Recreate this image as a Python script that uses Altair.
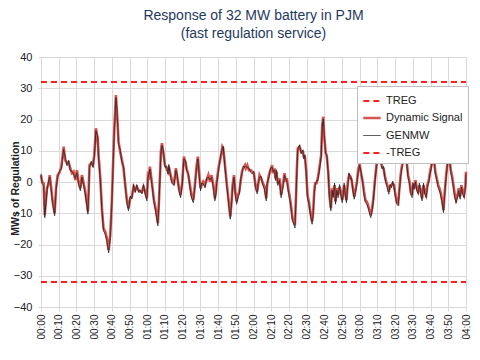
import altair as alt
import pandas as pd

# ---- data ----
minutes = [
    0, 0.6, 1.5, 2.1, 3.4, 4.3, 4.9, 5.6, 6.6, 7.7,
    8.5, 9.4, 10.5, 11.5, 12.8, 13.7, 14.7, 15.6, 16.5, 17.5,
    18.4, 19.4, 20.3, 21.2, 22.2, 23.1, 24.1, 25, 25.9, 26.5,
    27.4, 28.4, 29.3, 30.1, 31, 32, 32.5, 33.5, 34.4, 35.3,
    36.3, 37.2, 38.2, 39.1, 40, 41, 41.5, 42.3, 42.9, 43.8,
    44.7, 45.7, 46.6, 47.6, 48.5, 49.4, 50.4, 51.3, 52.3, 53.2,
    54.1, 55.1, 56, 57, 57.9, 58.8, 59.8, 60.4, 60.9, 61.5,
    62.3, 62.8, 63.8, 64.7, 65.6, 66, 66.6, 67.2, 67.7, 68.3,
    69, 70, 70.9, 71.7, 72.2, 73.2, 74.1, 75.1, 76.2, 76.9,
    77.9, 78.8, 79.8, 80.7, 81.7, 82.2, 83.2, 84.1, 85, 86,
    86.9, 87.9, 88.6, 89.4, 90.1, 90.7, 91.6, 92.6, 93.5, 94.5,
    95.4, 96.3, 97.3, 98.2, 98.8, 99.2, 100.5, 101.4, 102.4, 102.9,
    103.7, 104.6, 105.6, 106.3, 106.9, 107.6, 108.2, 109, 109.7, 110.5,
    111.2, 112, 112.7, 113.5, 114.2, 115.2, 115.7, 116.5, 117.4, 118.4,
    119.3, 120.2, 121.1, 122.1, 122.6, 123.4, 124.3, 125.3, 126.2, 127.2,
    127.7, 128.7, 129.6, 130.5, 131.1, 131.9, 132.4, 133, 133.7, 134.7,
    135.6, 136.6, 137.5, 138.3, 138.8, 139.6, 140.3, 140.9, 141.5, 142,
    142.8, 143.4, 143.9, 144.5, 145, 146, 146.9, 147.9, 148.4, 149,
    149.8, 150.5, 151.3, 151.8, 152.4, 153.1, 153.7, 154.3, 154.8, 155.6,
    156.3, 156.9, 157.7, 158.2, 158.8, 159.4, 159.9, 160.7, 161.4, 162.2,
    162.9, 163.7, 164.4, 165, 165.8, 166.3, 167.1, 167.8, 168.6, 169.3,
    170.1, 170.7, 171.2, 172, 172.5, 173.3, 174, 174.8, 175.4, 176.1,
    176.9, 177.6, 178.4, 179.1, 179.9, 180.9, 181.7, 182.4, 183.2, 184,
    184.7, 185.5, 186.2, 187, 187.7, 188.5, 189.4, 190.4, 191.1, 191.9,
    192.6, 193.4, 194.1, 194.9, 195.6, 196.4, 197.1, 197.9, 198.6, 199.4,
    200.2, 200.9, 201.7, 202.4, 203.2, 203.9, 204.9, 205.6, 206.2, 206.7,
    207.3, 208.1, 208.8, 209.6, 210.1, 210.7, 211.5, 212.2, 213, 213.7,
    214.5, 215.2, 216, 216.7, 217.5, 218.2, 219, 219.7, 220.5, 221.2,
    222, 222.7, 223.5, 224.3, 225, 225.8, 226.5, 227.3, 228, 228.8,
    229.5, 230.1, 230.7, 231.4, 232.2, 232.9, 233.7, 234.4, 235.2, 235.9,
    236.7, 237.4, 238.1, 238.9, 239.7, 240,
]

dynamic_signal = [
    2.2, 0.1, -0.4, -10.6, -2.0, -0.4, 2.2, -1.0, -6.3, -10.0,
    -2.0, 2.2, 3.1, 4.9, 11.3, 7.0, 6.0, 6.3, 4.4, 2.8,
    3.3, 0.6, 3.8, 0.1, -2.0, 2.2, -0.4, -3.1, -6.8, -9.5,
    5.4, 6.0, 5.4, 8.6, 17.2, 14.0, 8.6, 1.2, -8.4, -14.8,
    -15.9, -18.0, -21.8, -17.0, -6.3, 10.8, 18.2, 27.8, 22.5, 12.9,
    9.7, 7.0, 4.4, -1.0, -5.8, -8.4, -5.2, -4.7, -1.5, -2.6,
    -1.5, -2.6, -3.1, -3.1, -1.5, -3.1, -5.2, 2.2, 1.7, 4.9,
    1.2, -1.0, -5.8, -8.4, -11.6, -13.2, -6.3, 2.2, 9.7, 12.4,
    9.7, 5.4, 4.4, 3.3, 4.9, 2.2, 0.1, -0.4, 4.4, 1.7,
    -2.0, -4.2, 0.1, 8.1, 6.0, 4.4, 2.2, -1.0, -4.2, -5.8,
    -1.0, 5.4, 8.1, 2.2, -2.0, -1.0, 0.1, -1.0, 0.6, 2.2,
    0.1, 2.2, -1.0, -5.2, -3.1, 0.1, 5.4, 7.6, 11.3, 10.8,
    6.5, 1.2, -4.2, -7.9, -11.1, -6.3, -1.0, 2.2, -3.1, -6.3,
    -4.2, -3.1, 0.1, 3.3, 4.4, 5.4, 4.4, 5.4, 3.8, 3.8,
    3.3, 2.8, -1.0, -3.1, -1.0, 2.2, 1.2, -0.4, -1.5, -5.2,
    -1.0, 2.2, 3.8, 5.4, 2.8, 4.4, 1.2, 3.3, -0.4, 1.2,
    -4.2, -1.0, 2.8, 0.1, 1.2, -2.0, -4.2, -6.3, -9.0, -11.6,
    -12.7, -13.8, -6.3, 4.4, 10.8, 11.3, 9.7, 9.7, 8.1, 8.1,
    3.3, -4.2, -6.3, -8.4, -10.6, -12.7, -9.5, -3.1, -0.4, -0.4,
    1.2, 3.3, 6.5, 8.6, 18.2, 20.9, 15.0, 9.7, 8.1, 3.3,
    -4.2, -8.4, -2.0, -4.2, -1.0, -6.3, -2.0, -4.2, -1.5, -3.1,
    -5.8, -3.1, -1.0, -4.2, -5.8, 0.1, 2.2, 1.7, 0.6, -2.0,
    -4.7, -2.6, 0.1, 3.8, 6.0, 2.2, 0.1, -3.1, -5.8, -6.3,
    -7.4, -9.0, -10.6, -8.4, -5.2, 0.1, 5.4, 8.1, 9.2, 7.0,
    4.9, 4.4, 2.2, 0.1, -1.0, -3.1, -1.5, -1.0, -0.4, -1.0,
    -4.2, -6.3, -6.8, -2.0, 2.8, 5.4, 8.1, 10.2, 9.2, 5.4,
    2.2, 0.1, -3.1, -4.2, -1.0, -1.5, 0.6, -2.0, -3.1, -1.0,
    -3.1, -5.2, -1.0, -3.1, -4.2, -1.0, 0.6, 3.3, 5.4, 8.1,
    6.5, 3.3, 1.2, -1.0, -2.0, -3.6, -5.8, -9.0, -3.1, 2.2,
    6.0, 9.7, 7.6, 3.8, 1.7, -1.0, -4.2, -5.8, -4.2, -2.0,
    -4.7, -1.0, -3.1, -4.2, -1.0, 3.3,
]

genmw = [
    2.6, -0.5, -1.2, -11.4, -2.8, 0.3, 1.6, -1.8, -7.0, -10.8,
    -2.6, 1.6, 3.6, 4.2, 10.4, 7.8, 5.2, 6.9, 3.6, 3.4,
    2.5, 1.2, 3.0, -0.7, -2.8, 1.5, -1.1, -3.9, -7.5, -10.3,
    4.6, 6.6, 4.7, 7.8, 16.4, 14.6, 7.9, 0.4, -9.1, -15.6,
    -16.7, -18.9, -22.7, -17.8, -7.1, 9.9, 17.4, 27.0, 23.2, 12.1,
    10.4, 6.2, 5.0, -1.7, -6.5, -9.2, -4.5, -5.4, -0.8, -3.3,
    -0.9, -3.3, -2.5, -3.8, -0.9, -3.8, -6.0, 1.5, 2.4, 4.1,
    0.5, -1.7, -6.5, -9.1, -12.4, -14.0, -7.0, 1.4, 9.0, 11.7,
    10.3, 4.7, 5.0, 2.6, 5.6, 1.5, -0.6, -1.1, 3.7, 2.3,
    -2.7, -5.0, -0.6, 7.4, 6.7, 3.7, 2.8, -1.7, -5.0, -6.6,
    -1.7, 4.7, 7.4, 1.5, -2.8, -0.4, -0.6, -1.8, 1.2, 1.5,
    0.7, 1.5, -1.7, -6.0, -3.8, -0.6, 4.7, 8.3, 10.6, 11.4,
    5.8, 0.5, -4.9, -8.7, -11.9, -7.0, -1.7, 1.5, -3.8, -7.1,
    -4.9, -3.8, 0.8, 2.6, 5.0, 4.7, 5.0, 4.7, 4.4, 3.1,
    2.6, 3.4, -1.8, -3.8, -0.4, 1.5, 1.8, -1.1, -2.2, -6.0,
    -0.4, 1.5, 4.4, 4.7, 3.4, 3.7, 0.5, 3.9, -1.1, 0.5,
    -5.0, -1.7, 2.1, 0.7, 0.5, -2.8, -5.0, -7.1, -9.8, -12.4,
    -13.5, -14.7, -7.1, 3.6, 10.1, 11.9, 9.0, 10.3, 7.4, 8.7,
    2.6, -5.0, -7.1, -9.2, -11.4, -13.5, -10.3, -3.8, -1.1, 0.3,
    0.5, 2.6, 5.8, 7.9, 17.4, 20.2, 15.7, 9.0, 8.7, 2.6,
    -5.0, -9.2, -2.7, -5.0, -0.4, -7.1, -2.7, -5.0, -0.8, -3.8,
    -6.6, -3.8, -0.4, -5.0, -6.6, -0.6, 2.8, 1.0, 1.2, -2.7,
    -5.5, -3.3, -0.6, 3.1, 5.3, 2.8, -0.6, -3.9, -6.6, -7.1,
    -8.2, -9.8, -11.4, -9.2, -6.0, -0.6, 4.7, 7.4, 9.9, 6.3,
    4.2, 5.0, 1.5, -0.6, -1.8, -3.9, -0.8, -1.8, 0.2, -1.8,
    -5.0, -7.1, -7.6, -2.8, 2.1, 4.7, 7.4, 9.5, 9.9, 4.7,
    1.5, -0.6, -3.9, -5.0, -0.4, -2.3, 0.0, -2.8, -3.8, -0.4,
    -3.9, -6.0, -0.4, -3.8, -5.0, -1.7, 0.0, 2.6, 4.7, 7.4,
    7.2, 2.6, 0.5, -1.8, -2.7, -4.4, -6.6, -9.8, -3.8, 1.5,
    5.3, 9.0, 8.3, 3.1, 1.0, -1.8, -5.0, -6.6, -4.9, -2.8,
    -5.5, -1.7, -3.8, -5.0, -1.7, 2.6,
]

treg = 32
treg_span = [0, 240]
series_order = ["TREG", "Dynamic Signal", "GENMW", "-TREG"]
series_colors = ["#ff1f1f", "#d9534f", "#222222", "#ff1f1f"]
series_dashes = [[6, 4], [1, 0], [1, 0], [6, 4]]
series_widths = [2, 2.6, 0.9, 2]
x_ticks = list(range(0, 241, 10))
x_tick_labels = ["00:00", "00:10", "00:20", "00:30", "00:40", "00:50",
                 "01:00", "01:10", "01:20", "01:30", "01:40", "01:50",
                 "02:00", "02:10", "02:20", "02:30", "02:40", "02:50",
                 "03:00", "03:10", "03:20", "03:30", "03:40", "03:50", "04:00"]
y_ticks = list(range(-40, 41, 10))

# ---- build a long table ----
rows = []
for m, v in zip(minutes, dynamic_signal):
    rows.append({"minute": m, "value": v, "series": "Dynamic Signal"})
for m, v in zip(minutes, genmw):
    rows.append({"minute": m, "value": v, "series": "GENMW"})
for name, level in (("TREG", treg), ("-TREG", -treg)):
    for m in treg_span:
        rows.append({"minute": m, "value": level, "series": name})
df = pd.DataFrame(rows)

FONT = "Liberation Sans"
GRID = "#d9d9d9"
label_expr = "[" + ",".join("'%s'" % s for s in x_tick_labels) + "][round(datum.value/10)]"

x_enc = alt.X(
    "minute:Q",
    scale=alt.Scale(domain=[0, 240], nice=False, zero=False),
    axis=alt.Axis(values=x_ticks, labelExpr=label_expr, labelAngle=270,
                  title=None, grid=True, gridColor=GRID, tickColor=GRID,
                  domainColor=GRID, tickSize=4, labelFontSize=10,
                  labelPadding=3, labelColor="#222222", labelFont=FONT),
)
y_enc = alt.Y(
    "value:Q",
    scale=alt.Scale(domain=[-40, 40], nice=False),
    axis=alt.Axis(values=y_ticks, title="MWs of Regulation", titleFontSize=10.5,
                  titleFontWeight="bold", titleFont=FONT, titleColor="#222222",
                  titleX=-26, titleY=131, titleBaseline="middle",
                  titleAlign="center", titleAngle=270,
                  grid=True, gridColor=GRID, tickColor=GRID,
                  domainColor=GRID, tickSize=3, labelFontSize=11,
                  labelPadding=6, labelColor="#222222", labelFont=FONT),
)
legend = alt.Legend(title=None, orient="none", legendX=316, legendY=29,
                    fillColor="white", strokeColor="#bfbfbf", padding=5,
                    symbolType="stroke", symbolSize=300,
                    labelFontSize=11, labelFont=FONT, labelColor="#222222",
                    rowPadding=2, labelOffset=4)
color = alt.Color("series:N", sort=series_order,
                  scale=alt.Scale(domain=series_order, range=series_colors),
                  legend=legend)
dash = alt.StrokeDash("series:N", sort=series_order,
                      scale=alt.Scale(domain=series_order, range=series_dashes),
                      legend=legend)
width = alt.StrokeWidth("series:N", sort=series_order,
                        scale=alt.Scale(type="ordinal", domain=series_order,
                                        range=series_widths),
                        legend=legend)

base = alt.Chart(df).encode(x=x_enc, y=y_enc, color=color, strokeDash=dash,
                            strokeWidth=width, detail="series:N")

limits = base.transform_filter(
    alt.FieldOneOfPredicate(field="series", oneOf=["TREG", "-TREG"])
).mark_line()
signal = base.transform_filter(
    alt.FieldEqualPredicate(field="series", equal="Dynamic Signal")
).mark_line()
gen = base.transform_filter(
    alt.FieldEqualPredicate(field="series", equal="GENMW")
).mark_line()

chart = alt.layer(limits, signal, gen).properties(
    width=425,
    height=250,
    autosize="none",
    padding={"left": 33, "top": 49, "right": 6, "bottom": 45},
    title=alt.TitleParams(
        ["Response of 32 MW battery in PJM", "(fast regulation service)"],
        fontSize=14, font=FONT, fontWeight="normal", color="#1f3a5f",
        anchor="middle", lineHeight=18, offset=10,
    ),
).configure_view(stroke=GRID)

chart.save("out.html", embed_options={"renderer": "svg", "actions": False})
